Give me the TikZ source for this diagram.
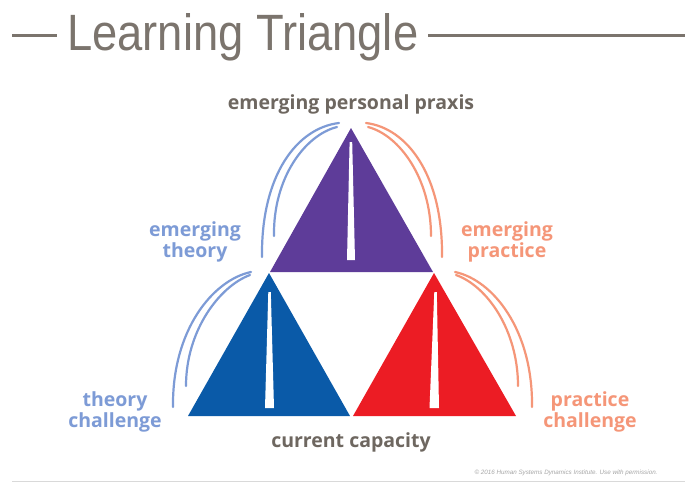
\documentclass[tikz,border=0pt]{standalone}
\usepackage{fontspec}
\setmainfont{Liberation Sans}
\newfontfamily\labfont{Open Sans}
\definecolor{titlegray}{HTML}{7B746D}
\definecolor{labgray}{HTML}{6E6760}
\definecolor{purp}{HTML}{5E3C99}
\definecolor{tblue}{HTML}{0A5AA8}
\definecolor{tred}{HTML}{EC1C24}
\definecolor{lblue}{HTML}{7D9BD6}
\definecolor{salmon}{HTML}{F59678}
\tikzset{
  titleline/.style={draw=titlegray,line width=3pt},
  arcline/.style={line width=2.2pt,line cap=round},
  spike/.style={fill=white},
  labtop/.style={inner sep=0,anchor=base,font=\labfont\bfseries\fontsize{19.5}{21}\selectfont},
  labside/.style={inner sep=0,anchor=base,align=center,font=\labfont\bfseries\fontsize{19.5}{21}\selectfont},
}
\begin{document}
\begin{tikzpicture}[x=1pt,y=-1pt]
\useasboundingbox (0,0) rectangle (685,483);
\fill[white] (0,0) rectangle (685,483);
% title
\node[anchor=base west,inner sep=0,text=titlegray] (title) at (67,50) {\resizebox{351pt}{37pt}{Learning Triangle}};
\coordinate (tlA) at (12,35);
\coordinate (tlB) at (57,35);
\coordinate (tlC) at (428,35);
\coordinate (tlD) at (685,35);
\draw[titleline] (tlA) -- (tlB);
\draw[titleline] (tlC) -- (tlD);
% bottom rule
\coordinate (brA) at (12,481);
\coordinate (brB) at (685,481);
\draw[draw=black!15,line width=1pt] (brA) -- (brB);
% triangles
\fill[purp] (351,128) -- (433,272) -- (270,272) -- cycle;
\fill[tblue] (269,273) -- (350,416) -- (188,416) -- cycle;
\fill[tred] (434,273) -- (516,416) -- (353,416) -- cycle;
% spikes
\fill[spike] (349.6,142) -- (352.2,142) -- (355,260) -- (347,260) -- cycle;
\fill[spike] (268.3,292) -- (270.8,292) -- (274,408) -- (265,408) -- cycle;
\fill[spike] (434.3,292) -- (436.8,292) -- (439,408) -- (429.5,408) -- cycle;
% arcs upper left
\draw[arcline,lblue] (339,123) .. controls (297,128) and (261,175) .. (262,257);
\draw[arcline,lblue] (337,127) .. controls (305,135) and (273,178) .. (274,236);
% arcs upper right
\draw[arcline,salmon] (366,123) .. controls (407,128) and (443,175) .. (442,257);
\draw[arcline,salmon] (368,127) .. controls (399,135) and (431,178) .. (431,236);
% arcs lower left
\draw[arcline,lblue] (251,272) .. controls (213,280) and (172,330) .. (173,407);
\draw[arcline,lblue] (250,275) .. controls (220,286) and (186,330) .. (186,386);
% arcs lower right
\draw[arcline,salmon] (455,272) .. controls (493,280) and (533,330) .. (532,407);
\draw[arcline,salmon] (456,275) .. controls (487,286) and (518,330) .. (518,386);
% labels
\node[labtop,text=labgray] (praxis) at (351,109) {emerging personal praxis};
\node[labtop,text=labgray] (capacity) at (351,447) {current capacity};
\node[labside,text=lblue] (eth) at (195,257) {emerging\\theory};
\node[labside,text=salmon] (epr) at (507,257) {emerging\\practice};
\node[labside,text=lblue] (tch) at (115,427) {theory\\challenge};
\node[labside,text=salmon] (pch) at (590,427) {practice\\challenge};
% credit
\node[anchor=base,inner sep=0,text=black!35,font=\itshape] (credit) at (566,474) {\resizebox{183pt}{!}{\textcopyright\ 2016 Human Systems Dynamics Institute. Use with permission.}};
\end{tikzpicture}
\end{document}
